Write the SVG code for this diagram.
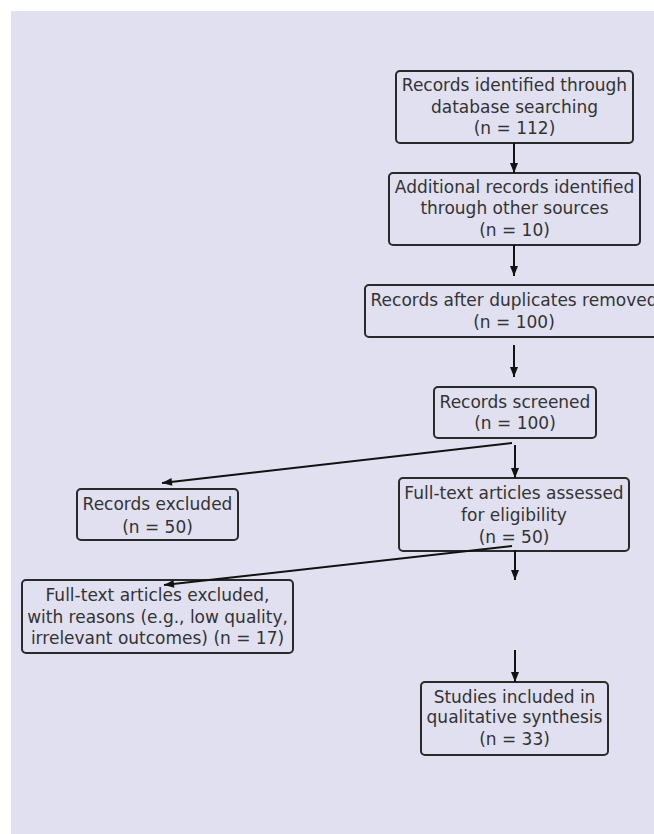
<svg xmlns="http://www.w3.org/2000/svg" width="654" height="834" viewBox="0 0 654 834">
<style>
.box{fill:#e0e0f0;stroke:#2a2a2a;stroke-width:2}
.t{font-family:"DejaVu Sans",sans-serif;font-size:17px;fill:#333333;text-anchor:middle}
.c{stroke:#111;stroke-width:2;fill:none;marker-end:url(#ah)}
</style>
<defs>
<marker id="ah" markerUnits="userSpaceOnUse" markerWidth="12" markerHeight="12" viewBox="0 0 12 12" refX="11" refY="6" orient="auto">
<path d="M1,2 L11,6 L1,10 Z" fill="#111"/>
</marker>
</defs>
<rect x="0" y="0" width="654" height="834" fill="#ffffff"/>
<rect x="11" y="11" width="643" height="823" fill="#e0e0f0"/>
<g id="n1">
<rect class="box" x="396" y="71" width="237" height="72" rx="4"/>
<text class="t" x="514.5" y="91">Records identified through</text>
<text class="t" x="514.5" y="113">database searching</text>
<text class="t" x="514.5" y="134">(n = 112)</text>
</g>
<g id="n2">
<rect class="box" x="389" y="173" width="251" height="72" rx="4"/>
<text class="t" x="514.5" y="193">Additional records identified</text>
<text class="t" x="514.5" y="214">through other sources</text>
<text class="t" x="514.5" y="236">(n = 10)</text>
</g>
<g id="n3">
<rect class="box" x="365" y="285" width="298" height="52" rx="4"/>
<text class="t" x="514" y="306">Records after duplicates removed</text>
<text class="t" x="514" y="328">(n = 100)</text>
</g>
<g id="n4">
<rect class="box" x="434" y="387" width="162" height="51" rx="4"/>
<text class="t" x="515" y="408">Records screened</text>
<text class="t" x="515" y="429">(n = 100)</text>
</g>
<g id="n5">
<rect class="box" x="77" y="489" width="161" height="51" rx="4"/>
<text class="t" x="157.5" y="510">Records excluded</text>
<text class="t" x="157.5" y="533">(n = 50)</text>
</g>
<g id="n6">
<rect class="box" x="399" y="478" width="230" height="73" rx="4"/>
<text class="t" x="514" y="499">Full-text articles assessed</text>
<text class="t" x="514" y="521">for eligibility</text>
<text class="t" x="514" y="543">(n = 50)</text>
</g>
<g id="n7">
<rect class="box" x="22" y="580" width="271" height="73" rx="4"/>
<text class="t" x="157.5" y="601">Full-text articles excluded,</text>
<text class="t" x="157.5" y="623">with reasons (e.g., low quality,</text>
<text class="t" x="157.5" y="644">irrelevant outcomes) (n = 17)</text>
</g>
<g id="n8">
<rect class="box" x="421" y="682" width="187" height="73" rx="4"/>
<text class="t" x="514.5" y="703">Studies included in</text>
<text class="t" x="514.5" y="723">qualitative synthesis</text>
<text class="t" x="514.5" y="745">(n = 33)</text>
</g>
<g id="connectors">
<line class="c" x1="514" y1="143" x2="514" y2="173"/>
<line class="c" x1="514" y1="245" x2="514" y2="276"/>
<line class="c" x1="514" y1="345" x2="514" y2="377"/>
<line class="c" x1="512" y1="443" x2="162" y2="483"/>
<line class="c" x1="515" y1="445" x2="515" y2="478"/>
<line class="c" x1="512" y1="546" x2="164" y2="585"/>
<line class="c" x1="515" y1="550" x2="515" y2="580"/>
<line class="c" x1="515" y1="650" x2="515" y2="682"/>
</g>
</svg>
